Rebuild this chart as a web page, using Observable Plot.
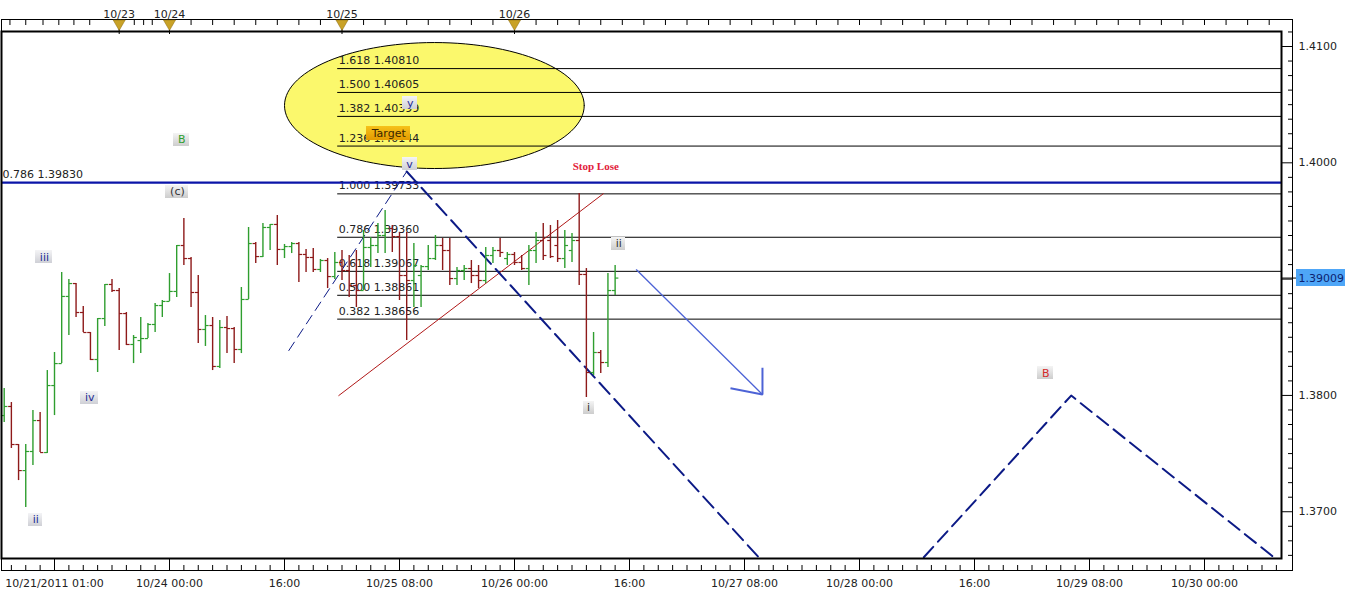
<!DOCTYPE html>
<html><head><meta charset="utf-8">
<script src="https://cdn.jsdelivr.net/npm/d3@7"></script>
<script src="https://cdn.jsdelivr.net/npm/@observablehq/plot@0.6"></script>
<style>body{margin:0;background:#fff}#chart svg{display:block}</style>
</head><body><div id="chart"></div>
<script>
// ---------- DATA ----------
const firstHour = -7; // hourly bar index, 0 = "10/21/2011 01:00" tick
const opens = [1.37827,1.37905,1.37578,1.37354,1.37518,1.37784,1.37509,1.38085,1.38274,1.38851,1.38962,1.38713,1.38541,1.38309,1.38661,1.38954,1.38902,1.38704,1.38438,1.38472,1.38489,1.38610,1.38773,1.38808,1.38894,1.39289,1.39177,1.38885,1.38567,1.38601,1.38249,1.38584,1.38575,1.38395,1.38825,1.39306,1.39194,1.39444,1.39470,1.39255,1.39280,1.39306,1.39212,1.39186,1.39083,1.39160,1.39022,1.39143,1.39074,1.38945,1.38902,1.39272,1.39289,1.39375,1.39435,1.39366,1.39031,1.38988,1.39031,1.39108,1.39177,1.39289,1.39246,1.39005,1.39074,1.39091,1.39031,1.38988,1.39203,1.39246,1.39177,1.39212,1.39143,1.39091,1.39246,1.39332,1.39332,1.39289,1.39177,1.39246,1.39332,1.39040,1.38197,1.38369,1.38283,1.38902];
const highs = [1.38059,1.37939,1.37578,1.37578,1.37870,1.37853,1.38214,1.38369,1.39057,1.38997,1.38962,1.38765,1.38541,1.38661,1.38954,1.38997,1.38919,1.38713,1.38515,1.38670,1.38618,1.38790,1.38816,1.39048,1.39289,1.39521,1.39186,1.39031,1.38687,1.38670,1.38644,1.38679,1.38584,1.38928,1.39444,1.39315,1.39478,1.39470,1.39547,1.39298,1.39315,1.39315,1.39255,1.39263,1.39169,1.39177,1.39229,1.39246,1.39203,1.39246,1.39418,1.39358,1.39478,1.39590,1.39461,1.39401,1.39401,1.39306,1.39117,1.39289,1.39375,1.39349,1.39349,1.39100,1.39117,1.39160,1.39117,1.39272,1.39272,1.39349,1.39229,1.39229,1.39203,1.39289,1.39401,1.39478,1.39461,1.39504,1.39418,1.39392,1.39736,1.39091,1.38541,1.38386,1.39048,1.39117];
const lows = [1.37767,1.37544,1.37268,1.37036,1.37397,1.37509,1.37501,1.37827,1.38274,1.38515,1.38670,1.38541,1.38300,1.38197,1.38593,1.38885,1.38386,1.38429,1.38274,1.38360,1.38489,1.38541,1.38670,1.38808,1.38842,1.39117,1.38756,1.38446,1.38421,1.38214,1.38231,1.38360,1.38274,1.38360,1.38825,1.39134,1.39186,1.39246,1.39117,1.39177,1.39220,1.38971,1.39057,1.39057,1.39057,1.38919,1.38997,1.38988,1.38842,1.38756,1.38902,1.39100,1.39220,1.39220,1.39229,1.38816,1.38472,1.38756,1.38756,1.39074,1.39160,1.39074,1.38945,1.38945,1.38988,1.38962,1.38919,1.38962,1.39134,1.39186,1.39117,1.39117,1.39074,1.38945,1.39134,1.39160,1.39177,1.39143,1.39091,1.39143,1.38945,1.37982,1.38171,1.38188,1.38240,1.38859];
const closes = [1.37905,1.37578,1.37354,1.37518,1.37784,1.37509,1.38085,1.38274,1.38851,1.38962,1.38713,1.38541,1.38309,1.38661,1.38954,1.38902,1.38704,1.38438,1.38498,1.38489,1.38610,1.38773,1.38808,1.38894,1.39289,1.39177,1.38885,1.38567,1.38601,1.38249,1.38584,1.38575,1.38395,1.38825,1.39306,1.39194,1.39444,1.39470,1.39255,1.39280,1.39306,1.39212,1.39186,1.39083,1.39160,1.39022,1.39143,1.39074,1.38945,1.38902,1.39272,1.39289,1.39375,1.39435,1.39366,1.39031,1.38988,1.39117,1.39108,1.39177,1.39289,1.39246,1.39005,1.39074,1.39091,1.39031,1.38988,1.39203,1.39246,1.39229,1.39212,1.39143,1.39091,1.39246,1.39332,1.39203,1.39194,1.39177,1.39289,1.39332,1.39040,1.38197,1.38369,1.38283,1.38902,1.39009];

const bottomTickHours = [0,16,32,48,64,80,96,112,128,144,160];
const bottomTickLabels = ["10/21/2011 01:00","10/24 00:00","16:00","10/25 08:00","10/26 00:00","16:00","10/27 08:00","10/28 00:00","16:00","10/29 08:00","10/30 00:00"];
const topDateHours = [9,16,40,64];
const topDateLabels = ["10/23","10/24","10/25","10/26"];
const topMinorHours = [-6.2,-4,-1.6,0.6,2.7,4.9,11.1,12.4,13.6,19,22,25,28,31,34,37,43,46,49,52,55,58,61,67,70,73,76,79,82,85,88,91,94,97,100,103,106,109,112,115,118,121,124,127,130,133,136,139,142,145,148,151,154,157,160,163,166,169];
const priceTicks = [1.37,1.38,1.39,1.40,1.41];

const fibRatios = ["1.618","1.500","1.382","1.236","1.000","0.786","0.618","0.500","0.382"];
const fibPrices = [1.40810,1.40605,1.40399,1.40144,1.39733,1.39360,1.39067,1.38861,1.38656];
const fibStartHour = 39.4;
const bigRetrace = {ratio:"0.786", price:1.39830};
const lastPrice = 1.39009;

const targetZone = {hour1:32.0, hour2:73.7, price1:1.39951, price2:1.41034};
const thinDashed = [{hour:32.6, price:1.38386},{hour:49.0, price:1.39925}];
const thickDashed = [{hour:49.0, price:1.39925},{hour:98.1, price:1.36600}];
const redTrend = [{hour:39.55, price:1.37999},{hour:76.35, price:1.39734}];
const zigzag = [{hour:120.95, price:1.36609},{hour:141.45, price:1.37999},{hour:169.64, price:1.36609}];
const arrowShaft = [{hour:80.97, price:1.39080},{hour:98.5, price:1.38008}];
const arrowHead = [{h1:98.5, p1:1.38238, h2:98.5, p2:1.38008},{h1:94.05, p1:1.38062, h2:98.5, p2:1.38008}];

const navyLabels = [{text:"ii",hour:-2.6,price:1.36933},{text:"iii",hour:-1.4,price:1.39186},{text:"iv",hour:4.9,price:1.37982},{text:"v",hour:49.4,price:1.39986},{text:"y",hour:49.5,price:1.40510}];
const grayLabels = [{text:"(c)",hour:17.1,price:1.39753},{text:"ii",hour:78.5,price:1.39306},{text:"i",hour:74.3,price:1.37896}];
const greenB = [{text:"B",hour:17.7,price:1.40200}];
const redB = [{text:"B",hour:137.9,price:1.38189}];
const targetLabel = [{text:"Target",hour:46.5,price:1.40252}];
const stopLabel = [{text:"Stop Lose",hour:75.3,price:1.39968}];

// ---------- BUILD ----------
const bars = opens.map((o,i)=>({hour:firstHour+i, open:o, high:highs[i], low:lows[i], close:closes[i]}));
const fibs = fibPrices.map((p,i)=>({price:p, label:`${fibRatios[i]} ${p.toFixed(5)}`}));
const bottomMinorHours = d3.range(-6, 171, 2).filter(h => h % 16 !== 0);
const minorPriceTicks = d3.range(0, 37).map(k => 1.36625 + k*0.00125).filter(p => Math.abs(p*100 - Math.round(p*100)) > 1e-6);
const xMin = -7.374, xMax = 170.713;
const cx = (targetZone.hour1+targetZone.hour2)/2, cy = (targetZone.price1+targetZone.price2)/2;
const rx = (targetZone.hour2-targetZone.hour1)/2, ry = (targetZone.price2-targetZone.price1)/2;
const ellipse = d3.range(0, 121).map(k => ({hour: cx + rx*Math.cos(2*Math.PI*k/120), price: cy + ry*Math.sin(2*Math.PI*k/120)}));

const measure = document.createElement("canvas").getContext("2d");
measure.font = "11px 'DejaVu Sans'";
let gradId = 0;
function boxed(items, c1, c2, padX, h, stroke) {
  return (index, scales, values, dims, context, next) => {
    const g = next(index, scales, values, dims, context);
    const id = "lg" + (gradId++);
    const wrap = d3.create("svg:g");
    const lg = wrap.append("defs").append("linearGradient").attr("id", id).attr("x1",0).attr("x2",0).attr("y1",0).attr("y2",1);
    lg.append("stop").attr("offset","0%").attr("stop-color", c1);
    lg.append("stop").attr("offset","100%").attr("stop-color", c2);
    for (const i of index) {
      const d = items[i];
      const w = Math.round(measure.measureText(d.text).width + 2*padX);
      const x = scales.x(d.hour), y = scales.y(d.price);
      wrap.append("rect").attr("x", Math.round(x - w/2)).attr("y", Math.round(y - h/2)).attr("width", w).attr("height", h)
        .attr("fill", `url(#${id})`).attr("stroke", stroke || "none");
    }
    wrap.append(() => g);
    return wrap.node();
  };
}
function priceBox(index, scales, values, dims, context, next) {
  const g = next(index, scales, values, dims, context);
  const wrap = d3.create("svg:g");
  const y = scales.y(lastPrice);
  const x0 = dims.width - dims.marginRight + 15;
  wrap.append("rect").attr("x", x0).attr("y", Math.round(y - 8.5)).attr("width", 49).attr("height", 17).attr("fill", "#4ea6f7");
  wrap.append(() => g);
  return wrap.node();
}

const navy = "#0c1a86";
const chart = Plot.plot({
  width: 1352, height: 595,
  marginLeft: 1, marginRight: 71, marginTop: 31, marginBottom: 37,
  x: {domain: [xMin, xMax], axis: null},
  y: {domain: [1.36598, 1.41129], axis: null},
  style: {fontFamily: "'DejaVu Sans', Verdana, sans-serif", fontSize: "11px", background: "#fff", color: "#000", overflow: "visible"},
  marks: [
    Plot.frame({insetTop: -12, insetBottom: -12, insetRight: -11, stroke: "#000", strokeWidth: 1}),
    Plot.line(ellipse, {x: "hour", y: "price", fill: "#fbf86c", stroke: "#000", strokeWidth: 1}),
    Plot.ruleY(fibs, {y: "price", x1: fibStartHour, x2: xMax, stroke: "#000", strokeWidth: 1}),
    Plot.text(fibs, {x: fibStartHour, y: "price", text: "label", textAnchor: "start", dx: 1, dy: -8, fill: "#222"}),
    Plot.ruleY([bigRetrace], {y: "price", stroke: "#0a14a8", strokeWidth: 2.2}),
    Plot.text([bigRetrace], {x: xMin, y: "price", text: d => `${d.ratio} ${d.price.toFixed(5)}`, textAnchor: "start", dx: 1, dy: -8, fill: "#222"}),
    Plot.line(redTrend, {x: "hour", y: "price", stroke: "#b01818", strokeWidth: 1}),
    Plot.line(thinDashed, {x: "hour", y: "price", stroke: navy, strokeWidth: 1, strokeDasharray: "10,6"}),
    Plot.line(thickDashed, {x: "hour", y: "price", stroke: navy, strokeWidth: 2, strokeDasharray: "15,7"}),
    Plot.line(zigzag, {x: "hour", y: "price", stroke: navy, strokeWidth: 2, strokeDasharray: "14,7"}),
    Plot.line(arrowShaft, {x: "hour", y: "price", stroke: "#4d63d6", strokeWidth: 1.3}),
    Plot.link(arrowHead, {x1: "h1", y1: "p1", x2: "h2", y2: "p2", stroke: "#4d63d6", strokeWidth: 2}),
    Plot.ruleX(bars, {x: "hour", y1: "low", y2: "high", stroke: d => d.close >= d.open ? "#2f9e2f" : "#8e1a1a", strokeWidth: 1.4}),
    Plot.link(bars, {x1: d => d.hour - 0.45, x2: "hour", y1: "open", y2: "open", stroke: d => d.close >= d.open ? "#2f9e2f" : "#8e1a1a", strokeWidth: 1.2}),
    Plot.link(bars, {x1: "hour", x2: d => d.hour + 0.45, y1: "close", y2: "close", stroke: d => d.close >= d.open ? "#2f9e2f" : "#8e1a1a", strokeWidth: 1.2}),
    Plot.text(navyLabels, {x: "hour", y: "price", text: "text", fill: "#1f2c94", render: boxed(navyLabels, "#f4f4f6", "#cfd0d6", 4, 13)}),
    Plot.text(grayLabels, {x: "hour", y: "price", text: "text", fill: "#333", render: boxed(grayLabels, "#f4f4f4", "#cdcdcd", 4, 13)}),
    Plot.text(greenB, {x: "hour", y: "price", text: "text", fill: "#2f9e2f", render: boxed(greenB, "#f4f4f4", "#cdcdcd", 4, 13)}),
    Plot.text(redB, {x: "hour", y: "price", text: "text", fill: "#d42a2a", render: boxed(redB, "#f4f4f4", "#cdcdcd", 4, 13)}),
    Plot.text(targetLabel, {x: "hour", y: "price", text: "text", fill: "#3a2600", render: boxed(targetLabel, "#f6c21a", "#e39a00", 5, 14)}),
    Plot.text(stopLabel, {x: "hour", y: "price", text: "text", fill: "#e2203a", fontWeight: "bold", fontFamily: "'Liberation Serif', serif", fontSize: 11}),
    // axes
    Plot.axisY(priceTicks, {anchor: "right", tickSize: 11, tickPadding: 6, tickFormat: d => Math.abs(d - lastPrice) < 0.0005 ? "" : d3.format(".4f")(d), fill: "#222"}),
    Plot.axisY(minorPriceTicks, {anchor: "right", tickSize: 5, dx: 6, tickFormat: () => ""}),
    Plot.axisY([lastPrice], {anchor: "right", tickSize: 15, tickFormat: () => ""}),
    Plot.text([lastPrice], {y: d => d, frameAnchor: "right", dx: 17, textAnchor: "start", text: d => d.toFixed(5), fill: "#0d1f70", render: priceBox}),
    Plot.axisX(bottomTickHours, {anchor: "bottom", tickSize: 12, tickPadding: 9, tickFormat: (d, i) => bottomTickLabels[i], fill: "#222"}),
    Plot.axisX(bottomMinorHours, {anchor: "bottom", tickSize: 5, dy: 7, tickFormat: () => ""}),
    Plot.axisX(topDateHours, {anchor: "top", tickSize: 14, dy: 2, tickPadding: 2, tickFormat: (d, i) => topDateLabels[i], fill: "#222", textStroke: "none"}),
    Plot.axisX(topMinorHours, {anchor: "top", tickSize: 5, dy: -7, tickFormat: () => ""}),
    Plot.dot(topDateHours, {x: d => d, frameAnchor: "top", dy: -8, symbol: "triangle", rotate: 180, r: 4.5, fill: "#c9a227", stroke: "#8a6a10", strokeWidth: 0.5}),
    Plot.frame({stroke: "#000", strokeWidth: 2})
  ]
});
document.getElementById("chart").append(chart);
</script>
</body></html>
